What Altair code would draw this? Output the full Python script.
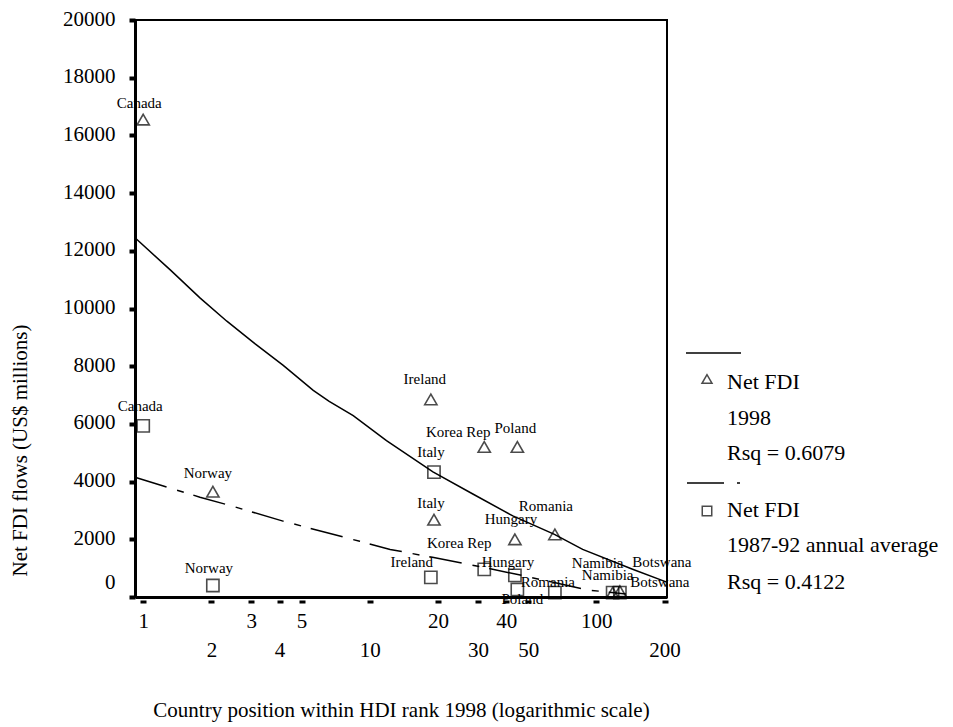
import altair as alt
import pandas as pd

# ---- data ----
countries = ["Canada", "Norway", "Ireland", "Italy", "Korea Rep", "Hungary",
             "Poland", "Romania", "Namibia", "Botswana"]
hdi_rank = [1.0, 2.03, 18.6, 19.2, 32.0, 43.7, 44.8, 65.6, 118.0, 127.0]
fdi_1998 = [16550, 3650, 6850, 2680, 5200, 2000, 5200, 2170, 150, 200]
fdi_8792 = [5930, 400, 680, 4330, 960, 750, 260, 150, 150, 150]

fit98_rank = [0.92, 1.32, 1.78, 2.34, 3.11, 4.15, 5.63, 6.62, 8.45, 11.85,
              19.0, 28.5, 42.8, 65.3, 87.0, 144.5, 199.0, 205.0]
fit98_val = [12450, 11330, 10370, 9560, 8780, 8030, 7160, 6780, 6290, 5420,
             4340, 3570, 2810, 2170, 1650, 960, 550, 510]
fit87_rank = [0.92, 1.78, 2.47, 4.14, 9.03, 12.3, 18.9, 31.8, 47.0, 78.0,
              90.0, 117.0, 135.0]
fit87_val = [4150, 3460, 3150, 2630, 1930, 1650, 1374, 1026, 748, 365,
             250, 156, 100]

x_ticks = [1, 2, 3, 4, 5, 10, 20, 30, 40, 50, 100, 200]
y_ticks = list(range(0, 20001, 2000))

# label nudges (layout only): series, country, dx, dy
label_nudges = [
    ("t", "Canada", -4, -17), ("t", "Norway", -5, -19), ("t", "Ireland", -6, -20),
    ("t", "Korea Rep", -26, -15), ("t", "Poland", -2, -19), ("t", "Italy", -3, -17),
    ("t", "Hungary", -4, -20), ("t", "Romania", -9, -28), ("t", "Namibia", -15, -30),
    ("t", "Botswana", 42, -29),
    ("s", "Canada", -3, -20), ("s", "Norway", -4, -17), ("s", "Italy", -3, -20),
    ("s", "Ireland", -19, -15), ("s", "Korea Rep", -25, -26), ("s", "Hungary", -7, -13),
    ("s", "Poland", 5, 10), ("s", "Romania", -7, -11), ("s", "Namibia", -5, -18),
    ("s", "Botswana", 40, -11),
]

df = pd.DataFrame({"country": countries, "rank": hdi_rank,
                   "f98": fdi_1998, "f87": fdi_8792})
fit98 = pd.DataFrame({"rank": fit98_rank, "v": fit98_val})
fit87 = pd.DataFrame({"rank": fit87_rank, "v": fit87_val})

FONT = "Liberation Serif"

xscale = alt.Scale(type="log", domain=[0.92, 205], nice=False)
yscale = alt.Scale(domain=[0, 20000], nice=False, zero=False)

xaxis = alt.Axis(
    values=x_ticks, format="d", grid=False,
    title="Country position within HDI rank 1998 (logarithmic scale)",
    titleFont=FONT, titleFontSize=21, titleFontWeight="normal", titleColor="black",
    titleY=113, titleBaseline="middle",
    labelFont=FONT, labelFontSize=21, labelColor="black",
    labelPadding={"condition": {"test": "indexof([2,4,10,30,50,200], datum.value) >= 0",
                                "value": 36}, "value": 7},
    labelOverlap=False, labelFlush=False,
    tickSize=6, tickWidth=6, tickColor="black", tickDash=[0, 3, 3],
    domainColor="black", domainWidth=3,
)
yaxis = alt.Axis(
    values=y_ticks, format="d", grid=False,
    title="Net FDI flows (US$ millions)",
    titleFont=FONT, titleFontSize=21, titleFontWeight="normal", titleColor="black",
    titleX=-115, titleY=430, titleAngle=270, titleAlign="center", titleBaseline="middle",
    labelFont=FONT, labelFontSize=21, labelColor="black", labelPadding=14,
    labelOffset={"condition": {"test": "datum.value === 0", "value": -15}, "value": -1},
    labelOverlap=False, labelFlush=False,
    tickSize=6, tickWidth=4, tickColor="black",
    domainColor="black", domainWidth=3,
)

X = alt.X("rank:Q", scale=xscale, axis=xaxis)


def Y(field):
    return alt.Y(field, type="quantitative", scale=yscale, axis=yaxis)


line98 = alt.Chart(fit98).mark_line(color="black", strokeWidth=1.5).encode(x=X, y=Y("v"))
line87 = alt.Chart(fit87).mark_line(color="black", strokeWidth=1.5,
                                    strokeDash=[33, 11, 7, 10]).encode(x=X, y=Y("v"))

pts98 = alt.Chart(df).mark_point(shape="triangle-up", size=150, filled=False,
                                 color="black", strokeWidth=1.6).encode(x=X, y=Y("f98"))
pts87 = alt.Chart(df).mark_point(shape="square", size=150, filled=False,
                                 color="black", strokeWidth=1.6).encode(x=X, y=Y("f87"))

layers = [line98, line87, pts98, pts87]

for series, country, dx, dy in label_nudges:
    field = "f98" if series == "t" else "f87"
    layers.append(
        alt.Chart(df).transform_filter(alt.datum.country == country)
        .mark_text(font=FONT, fontSize=15, color="black", align="center",
                   baseline="middle", dx=dx, dy=dy)
        .encode(x=X, y=Y(field), text="country:N")
    )

# ---- hand-made legend (layout positions relative to plot area) ----
one = pd.DataFrame({"a": [0]})
LEG = 22
layers += [
    alt.Chart(one).mark_rule(color="black", strokeWidth=1.5).encode(
        x=alt.value(551), x2=alt.value(606), y=alt.value(333)),
    alt.Chart(one).mark_point(shape="triangle-up", size=100, filled=False, color="black",
                              strokeWidth=1.5).encode(x=alt.value(572), y=alt.value(359)),
    alt.Chart(one).mark_text(text="Net FDI", font=FONT, fontSize=LEG, align="left",
                             baseline="middle", color="black").encode(
        x=alt.value(592), y=alt.value(362)),
    alt.Chart(one).mark_text(text="1998", font=FONT, fontSize=LEG, align="left",
                             baseline="middle", color="black").encode(
        x=alt.value(592), y=alt.value(398)),
    alt.Chart(one).mark_text(text="Rsq = 0.6079", font=FONT, fontSize=LEG, align="left",
                             baseline="middle", color="black").encode(
        x=alt.value(592), y=alt.value(433)),
    alt.Chart(one).mark_rule(color="black", strokeWidth=1.5).encode(
        x=alt.value(552), x2=alt.value(589), y=alt.value(463)),
    alt.Chart(one).mark_rule(color="black", strokeWidth=1.5).encode(
        x=alt.value(602), x2=alt.value(605), y=alt.value(463)),
    alt.Chart(one).mark_point(shape="square", size=90, filled=False, color="black",
                              strokeWidth=1.5).encode(x=alt.value(572), y=alt.value(491)),
    alt.Chart(one).mark_text(text="Net FDI", font=FONT, fontSize=LEG, align="left",
                             baseline="middle", color="black").encode(
        x=alt.value(592), y=alt.value(490)),
    alt.Chart(one).mark_text(text="1987-92 annual average", font=FONT, fontSize=LEG,
                             align="left", baseline="middle", color="black").encode(
        x=alt.value(592), y=alt.value(525)),
    alt.Chart(one).mark_text(text="Rsq = 0.4122", font=FONT, fontSize=LEG, align="left",
                             baseline="middle", color="black").encode(
        x=alt.value(592), y=alt.value(562)),
]

chart = alt.layer(*layers).properties(
    width=532, height=577,
    autosize=alt.AutoSizeParams(type="none"),
    padding={"left": 127, "top": 12, "right": 278, "bottom": 126},
    background="white",
).configure_view(stroke="black", strokeWidth=2)

chart.save("out.html", embed_options={"renderer": "svg", "actions": False})
